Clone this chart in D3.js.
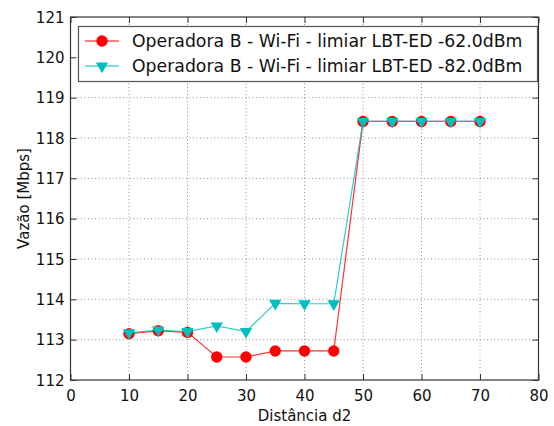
<!DOCTYPE html>
<html>
<head>
<meta charset="utf-8">
<script src="https://cdn.jsdelivr.net/npm/d3@7"></script>
<style>
  body { margin: 0; background: #fff; }
  svg { display: block; font-family: "DejaVu Sans", sans-serif; }
</style>
</head>
<body>
<div id="chart"></div>
<script>
const distances = [10, 15, 20, 25, 30, 35, 40, 45, 50, 55, 60, 65, 70];
const vazao62 = [113.15, 113.22, 113.18, 112.57, 112.57, 112.72, 112.72, 112.72, 118.41, 118.41, 118.41, 118.41, 118.41];
const vazao82 = [113.17, 113.24, 113.2, 113.34, 113.2, 113.9, 113.89, 113.89, 118.41, 118.41, 118.41, 118.41, 118.41];
const seriesNames = ["Operadora B - Wi-Fi - limiar LBT-ED -62.0dBm", "Operadora B - Wi-Fi - limiar LBT-ED -82.0dBm"];
const xTicks = [0, 10, 20, 30, 40, 50, 60, 70, 80];
const yTicks = [112, 113, 114, 115, 116, 117, 118, 119, 120, 121];

const W = 554, H = 426;
const plotL = 70.5, plotR = 538.5, plotT = 17, plotB = 380;

const svg = d3.select("#chart").append("svg")
  .attr("width", W)
  .attr("height", H);

const xScale = d3.scaleLinear().domain([0, 80]).range([plotL, plotR]);
const yScale = d3.scaleLinear().domain([112, 121]).range([plotB, plotT]);

// grid
const grid = svg.append("g");
grid.selectAll(".gx")
  .data(xTicks.slice(1, -1))
  .join("line")
  .attr("x1", d => xScale(d)).attr("x2", d => xScale(d))
  .attr("y1", plotT).attr("y2", plotB)
  .attr("stroke", "#777")
  .attr("stroke-width", 0.8)
  .attr("stroke-dasharray", "1,2.5");
grid.selectAll(".gy")
  .data(yTicks.slice(1, -1))
  .join("line")
  .attr("y1", d => yScale(d)).attr("y2", d => yScale(d))
  .attr("x1", plotL).attr("x2", plotR)
  .attr("stroke", "#777")
  .attr("stroke-width", 0.8)
  .attr("stroke-dasharray", "1,2.5");

// axes (ticks inward, on all four sides)
const tickFont = g => g.selectAll(".tick text")
  .attr("font-size", 15)
  .attr("font-family", "DejaVu Sans")
  .attr("fill", "#111");

const xAxis = svg.append("g")
  .attr("transform", `translate(0,${plotB})`)
  .call(d3.axisBottom(xScale).tickValues(xTicks).tickSize(-6).tickPadding(10));
xAxis.call(tickFont);
const xAxisTop = svg.append("g")
  .attr("transform", `translate(0,${plotT})`)
  .call(d3.axisTop(xScale).tickValues(xTicks).tickSize(-6).tickFormat(""));

const yAxis = svg.append("g")
  .attr("transform", `translate(${plotL},0)`)
  .call(d3.axisLeft(yScale).tickValues(yTicks).tickSize(-6).tickPadding(6));
yAxis.call(tickFont);
const yAxisRight = svg.append("g")
  .attr("transform", `translate(${plotR},0)`)
  .call(d3.axisRight(yScale).tickValues(yTicks).tickSize(-6).tickFormat(""));

[xAxis, xAxisTop, yAxis, yAxisRight].forEach(g => {
  g.select(".domain").remove();
  g.selectAll(".tick line").attr("stroke", "#333").attr("stroke-width", 1);
});
yAxis.selectAll(".tick text").attr("dy", "0.35em");

// frame
svg.append("rect")
  .attr("x", plotL).attr("y", plotT)
  .attr("width", plotR - plotL).attr("height", plotB - plotT)
  .attr("fill", "none")
  .attr("stroke", "#333")
  .attr("stroke-width", 1.2);

// axis labels
svg.append("text")
  .text("Distância d2")
  .attr("x", (plotL + plotR) / 2)
  .attr("y", 421)
  .attr("text-anchor", "middle")
  .attr("font-size", 15)
  .attr("fill", "#111");
svg.append("text")
  .text("Vazão [Mbps]")
  .attr("transform", `translate(29,${(plotT + plotB) / 2}) rotate(-90)`)
  .attr("text-anchor", "middle")
  .attr("font-size", 15)
  .attr("fill", "#111");

// series
const line = d3.line()
  .x(d => xScale(d[0]))
  .y(d => yScale(d[1]));

const tri = d3.symbol().type(d3.symbolTriangle).size(66);
const red = "#ff0000", cyan = "#00bfbf";

const pts62 = distances.map((d, i) => [d, vazao62[i]]);
const pts82 = distances.map((d, i) => [d, vazao82[i]]);

svg.append("path")
  .datum(pts62)
  .attr("d", line)
  .attr("fill", "none")
  .attr("stroke", red)
  .attr("stroke-opacity", 0.8)
  .attr("stroke-width", 1.2);
svg.append("g").selectAll("circle")
  .data(pts62)
  .join("circle")
  .attr("cx", d => xScale(d[0]))
  .attr("cy", d => yScale(d[1]))
  .attr("r", 5.7)
  .attr("fill", red);

svg.append("path")
  .datum(pts82)
  .attr("d", line)
  .attr("fill", "none")
  .attr("stroke", cyan)
  .attr("stroke-opacity", 0.8)
  .attr("stroke-width", 1.2);
svg.append("g").selectAll("path")
  .data(pts82)
  .join("path")
  .attr("d", tri)
  .attr("transform", d => `translate(${xScale(d[0])},${yScale(d[1])}) rotate(180)`)
  .attr("fill", cyan);

// legend
const legend = svg.append("g");
legend.append("rect")
  .attr("x", 78.5).attr("y", 26.5)
  .attr("width", 459).attr("height", 55)
  .attr("fill", "#fff")
  .attr("stroke", "#555")
  .attr("stroke-width", 1.2);
const rows = legend.selectAll(".row")
  .data(seriesNames)
  .join("g")
  .attr("transform", (d, i) => `translate(0,${41 + i * 25})`);
rows.append("line")
  .attr("x1", 85).attr("x2", 119)
  .attr("stroke", (d, i) => i === 0 ? red : cyan)
  .attr("stroke-width", 1.2);
rows.filter((d, i) => i === 0).append("circle")
  .attr("cx", 102).attr("r", 5.7).attr("fill", red);
rows.filter((d, i) => i === 1).append("path")
  .attr("d", tri)
  .attr("transform", "translate(102,0) rotate(180)")
  .attr("fill", cyan);
rows.append("text")
  .text(d => d)
  .attr("x", 132)
  .attr("dy", "0.35em")
  .attr("font-size", 17.3)
  .attr("fill", "#111");
</script>
</body>
</html>
